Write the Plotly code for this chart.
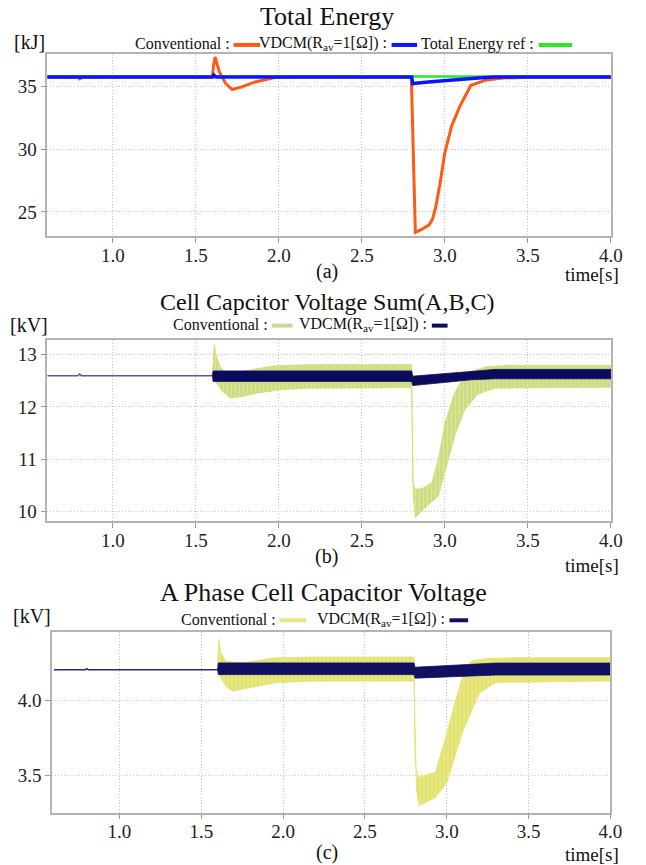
import plotly.graph_objects as go

W, H = 646, 865
FONT = "Liberation Serif, Times New Roman, serif"

# ---------------- data ----------------
x_ticks = [1.0, 1.5, 2.0, 2.5, 3.0, 3.5, 4.0]
ya_ticks = [25, 30, 35]
yb_ticks = [10, 11, 12, 13]
yc_ticks = [3.5, 4.0]

# (a) Total Energy [kJ]
conv_a_t = [0.60, 0.79, 0.80, 0.82, 1.600, 1.606, 1.616, 1.640, 1.680, 1.719, 1.778, 1.857, 1.975, 2.100,
            2.798, 2.812, 2.822, 2.860, 2.905, 2.925, 2.945, 2.970, 2.999, 3.039, 3.088, 3.157, 3.250, 3.350, 3.500, 4.000]
conv_a_v = [35.72, 35.72, 35.58, 35.72, 35.72, 36.60, 37.33, 36.20, 35.21, 34.74, 34.95, 35.34, 35.69, 35.72,
            35.72, 28.00, 23.36, 23.60, 23.97, 24.40, 25.40, 27.20, 29.66, 31.77, 33.36, 35.08, 35.50, 35.65, 35.72, 35.72]
vdcm_a_t = [0.60, 1.600, 1.608, 1.620, 2.800, 2.806, 2.900, 3.000, 3.100, 3.200, 3.300, 4.000]
vdcm_a_v = [35.74, 35.74, 35.90, 35.74, 35.74, 35.21, 35.33, 35.45, 35.56, 35.66, 35.73, 35.73]
ref_a_t = [0.60, 4.00]
ref_a_v = [35.78, 35.78]

# (b) Cell capacitor voltage sum [kV]
pre_b_t = [0.60, 0.79, 0.80, 0.81, 1.60]
pre_b_v = [12.60, 12.60, 12.63, 12.60, 12.60]
conv_b_up_t = [1.600, 1.606, 1.611, 1.625, 1.650, 1.680, 1.780, 1.880, 1.975, 2.170, 2.800, 2.806, 2.820,
               2.870, 2.921, 2.960, 3.000, 3.058, 3.118, 3.157, 3.250, 3.400, 4.000]
conv_b_up_v = [12.60, 12.95, 13.19, 12.95, 12.75, 12.65, 12.68, 12.74, 12.79, 12.81, 12.81, 10.60, 10.42,
               10.45, 10.55, 10.99, 11.69, 12.27, 12.59, 12.68, 12.77, 12.80, 12.80]
conv_b_lo_t = [1.600, 1.615, 1.660, 1.709, 1.778, 1.876, 2.010, 2.170, 2.800, 2.810, 2.822, 2.880, 2.960,
               3.000, 3.060, 3.120, 3.200, 3.300, 4.000]
conv_b_lo_v = [12.60, 12.50, 12.30, 12.17, 12.20, 12.27, 12.33, 12.36, 12.37, 10.30, 9.88, 10.07, 10.29,
               10.75, 11.45, 11.95, 12.25, 12.36, 12.38]
vdcm_b_t = [1.600, 1.604, 2.800, 2.806, 3.157, 3.300, 4.000]
vdcm_b_up = [12.60, 12.69, 12.69, 12.59, 12.68, 12.72, 12.72]
vdcm_b_lo = [12.60, 12.49, 12.49, 12.41, 12.52, 12.54, 12.54]

# (c) A phase cell capacitor voltage [kV]
pre_c_t = [0.60, 0.79, 0.80, 0.81, 1.60]
pre_c_v = [4.205, 4.205, 4.212, 4.205, 4.205]
conv_c_up_t = [1.600, 1.603, 1.606, 1.620, 1.650, 1.750, 1.950, 2.150, 2.800, 2.806, 2.820, 2.930, 2.990,
               3.050, 3.110, 3.150, 3.250, 3.400, 4.000]
conv_c_up_v = [4.21, 4.35, 4.41, 4.32, 4.262, 4.251, 4.285, 4.29, 4.29, 3.60, 3.485, 3.518, 3.74,
               3.984, 4.207, 4.265, 4.28, 4.285, 4.285]
conv_c_lo_t = [1.600, 1.620, 1.650, 1.690, 1.790, 1.950, 2.150, 2.800, 2.815, 2.830, 2.930, 3.000, 3.100,
               3.200, 3.300, 4.000]
conv_c_lo_v = [4.21, 4.15, 4.095, 4.062, 4.084, 4.118, 4.129, 4.13, 3.40, 3.295, 3.35, 3.45, 3.80,
               4.05, 4.12, 4.13]
vdcm_c_t = [1.600, 1.604, 2.800, 2.806, 3.300, 4.000]
vdcm_c_up = [4.205, 4.251, 4.251, 4.222, 4.25, 4.25]
vdcm_c_lo = [4.205, 4.173, 4.173, 4.149, 4.17, 4.17]

# ---------------- helpers ----------------
def px(x):
    return x / W

def py(y):
    return 1 - y / H

def band(t_up, v_up, t_lo, v_lo):
    return list(t_up) + list(t_lo)[::-1], list(v_up) + list(v_lo)[::-1]

fig = go.Figure()

# (a)
fig.add_trace(go.Scatter(x=conv_a_t, y=conv_a_v, mode="lines", line=dict(color="#ff5a14", width=3),
                         xaxis="x", yaxis="y", showlegend=False))
fig.add_trace(go.Scatter(x=ref_a_t, y=ref_a_v, mode="lines", line=dict(color="#29e829", width=2.5),
                         xaxis="x", yaxis="y", showlegend=False))
fig.add_trace(go.Scatter(x=vdcm_a_t, y=vdcm_a_v, mode="lines", line=dict(color="#0a14ff", width=3.5),
                         xaxis="x", yaxis="y", showlegend=False))

# (b)
bx, by = band(conv_b_up_t, conv_b_up_v, conv_b_lo_t, conv_b_lo_v)
fig.add_trace(go.Scatter(x=bx, y=by, mode="lines", fill="toself", line=dict(color="#d6dc70", width=0.8),
                         fillcolor="#e2e678",
                         fillpattern=dict(shape="|", fgcolor="#8cc2d8", bgcolor="#e2e678", size=4, solidity=0.4),
                         xaxis="x2", yaxis="y2", showlegend=False))
fig.add_trace(go.Scatter(x=pre_b_t, y=pre_b_v, mode="lines", line=dict(color="#5a5a9a", width=1.5),
                         xaxis="x2", yaxis="y2", showlegend=False))
vbx, vby = band(vdcm_b_t, vdcm_b_up, vdcm_b_t, vdcm_b_lo)
fig.add_trace(go.Scatter(x=vbx, y=vby, mode="lines", fill="toself", line=dict(color="#0b0b5c", width=0.8),
                         fillcolor="#0b0b5c", xaxis="x2", yaxis="y2", showlegend=False))

# (c)
cx, cy = band(conv_c_up_t, conv_c_up_v, conv_c_lo_t, conv_c_lo_v)
fig.add_trace(go.Scatter(x=cx, y=cy, mode="lines", fill="toself", line=dict(color="#e2e272", width=0.8),
                         fillcolor="#e8e880",
                         fillpattern=dict(shape="|", fgcolor="#d8d860", bgcolor="#e8e880", size=4, solidity=0.4),
                         xaxis="x3", yaxis="y3", showlegend=False))
fig.add_trace(go.Scatter(x=pre_c_t, y=pre_c_v, mode="lines", line=dict(color="#2a2a80", width=1.5),
                         xaxis="x3", yaxis="y3", showlegend=False))
vcx, vcy = band(vdcm_c_t, vdcm_c_up, vdcm_c_t, vdcm_c_lo)
fig.add_trace(go.Scatter(x=vcx, y=vcy, mode="lines", fill="toself", line=dict(color="#101060", width=0.8),
                         fillcolor="#101060", xaxis="x3", yaxis="y3", showlegend=False))

# ---------------- axes ----------------
tickfont = dict(family=FONT, size=19, color="#222")

def xaxis(dom, anchor, rng):
    return dict(domain=dom, anchor=anchor, range=rng, tickvals=x_ticks, tickformat=".1f",
                showgrid=True, gridcolor="#c4c4c4", griddash="1px,2px", gridwidth=1,
                showline=True, linecolor="#b4b4b4", linewidth=1.5, mirror=True,
                ticks="outside", ticklen=5, tickcolor="#999", tickfont=tickfont, zeroline=False,
                ticklabelstandoff=-4)

def yaxis(dom, anchor, rng, tv, fmt):
    return dict(domain=dom, anchor=anchor, range=rng, tickvals=tv, tickformat=fmt,
                showgrid=True, gridcolor="#c4c4c4", griddash="1px,2px", gridwidth=1,
                showline=True, linecolor="#b4b4b4", linewidth=1.5, mirror=True,
                ticks="outside", ticklen=5, tickcolor="#999", tickfont=tickfont, zeroline=False)

xa_dom = [px(48.3), px(622.5)]
xc_dom = [px(53), px(622)]

fig.update_layout(
    width=W, height=H, margin=dict(l=0, r=0, t=0, b=0),
    paper_bgcolor="white", plot_bgcolor="white", showlegend=False,
    xaxis=xaxis(xa_dom, "y", [0.606, 4.0]),
    yaxis=yaxis([py(236.5), py(54.5)], "x", [23.06, 37.53], ya_ticks, "d"),
    xaxis2=xaxis(xa_dom, "y2", [0.606, 4.0]),
    yaxis2=yaxis([py(522), py(340)], "x2", [9.81, 13.29], yb_ticks, "d"),
    xaxis3=xaxis(xc_dom, "y3", [0.588, 4.0]),
    yaxis3=yaxis([py(813.5), py(633)], "x3", [3.25, 4.456], yc_ticks, ".1f"),
)

# ---------------- texts ----------------
ann = []

def text(x, y, s, size, xanchor="center"):
    ann.append(dict(x=px(x), y=py(y), xref="paper", yref="paper", text=s, showarrow=False,
                    xanchor=xanchor, yanchor="middle", font=dict(family=FONT, size=size, color="#111")))

shapes = []

def sample(x0, x1, y, color):
    shapes.append(dict(type="line", xref="paper", yref="paper", x0=px(x0), x1=px(x1), y0=py(y), y1=py(y),
                       line=dict(color=color, width=4)))

vdcm_label = "VDCM(R<sub>av</sub>=1[Ω]) :"

# (a)
text(333, 17, "Total Energy", 26)
text(30, 42, "[kJ]", 20)
text(236, 44, "Conventional :", 16, "right"); sample(238, 265, 45, "#ff5a14")
text(396, 44, vdcm_label, 16, "right"); sample(399, 425, 45, "#0a14ff")
text(546, 44, "Total Energy ref :", 16, "right"); sample(549, 583, 45, "#29e829")
text(333, 272, "(a)", 20)
text(633, 275, "time[s]", 19, "right")

# (b)
text(333, 302, "Cell Capcitor Voltage Sum(A,B,C)", 24)
text(30, 325, "[kV]", 20)
text(275, 325, "Conventional :", 16, "right"); sample(277, 298, 326, "#c8da94")
text(437, 325, vdcm_label, 16, "right"); sample(440, 456, 326, "#0b0b5c")
text(333, 557, "(b)", 20)
text(633, 566, "time[s]", 19, "right")

# (c)
text(330, 593, "A Phase Cell Capacitor Voltage", 26)
text(33, 617, "[kV]", 20)
text(283, 620, "Conventional :", 16, "right"); sample(285, 312, 621, "#e8e682")
text(455, 620, vdcm_label, 16, "right"); sample(458, 477, 621, "#101060")
text(333, 853, "(c)", 20)
text(633, 855, "time[s]", 19, "right")

fig.update_layout(annotations=ann, shapes=shapes)

post = ("var s=document.createElement('style');"
        "s.textContent='html,body{margin:0;padding:0;overflow:hidden;width:646px;height:865px;}';"
        "document.head.appendChild(s);")
fig.write_html("out.html", config={"displayModeBar": False, "responsive": False}, post_script=post)
